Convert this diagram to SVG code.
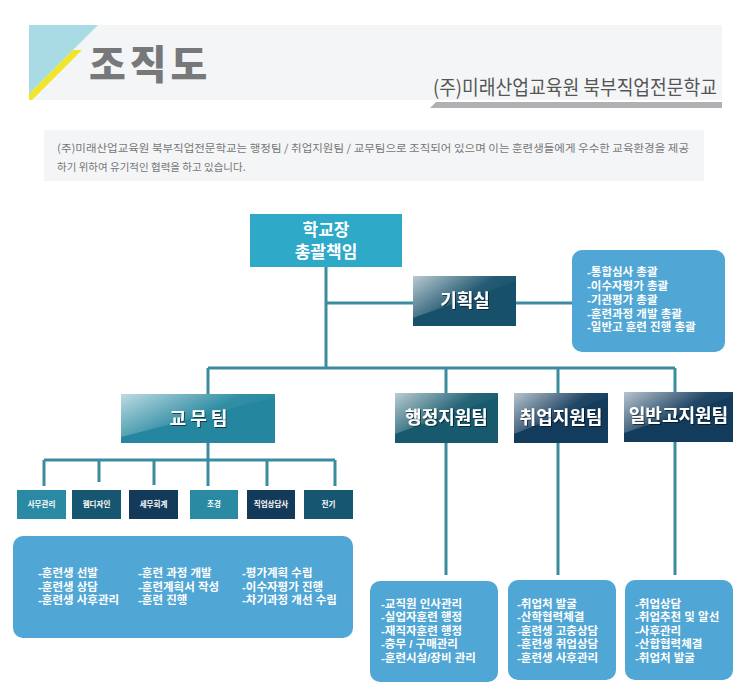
<svg xmlns="http://www.w3.org/2000/svg" width="750" height="694" viewBox="0 0 750 694">
<defs>
<style>
text{font-family:"Noto Sans CJK KR","Noto Sans",sans-serif;}
.lbl{fill:#fff;font-weight:700;text-anchor:middle;}
.two{font-family:"Liberation Sans","Noto Sans CJK KR",sans-serif;}
.info{fill:#fff;font-weight:700;font-size:11.5px;font-family:"Liberation Sans","Noto Sans CJK KR",sans-serif;}
.small{fill:#fff;font-weight:700;font-size:7.5px;text-anchor:middle;}
.infobox{fill:#50a6d4;}
.conn{stroke:#3b8c9e;stroke-width:3;fill:none;}
</style>
<linearGradient id="gloss" x1="0" y1="0" x2="1" y2="0.6">
<stop offset="0" stop-color="#fff" stop-opacity="0.7"/>
<stop offset="0.6" stop-color="#fff" stop-opacity="0.06"/>
<stop offset="1" stop-color="#fff" stop-opacity="0"/>
</linearGradient>
<filter id="sh" x="-10%" y="-20%" width="120%" height="140%">
<feDropShadow dx="1" dy="1" stdDeviation="0.6" flood-color="#000" flood-opacity="0.55"/>
</filter>
</defs>
<rect width="750" height="694" fill="#fff"/>

<g id="header">
<rect x="29" y="25" width="693" height="75" fill="#f4f5f7"/>
<polygon points="29,25 98,25 29,94" fill="#a8dbe3"/>
<polygon points="73,50 82,50 32,100 29,100 29,94" fill="#f0e52a"/>
<text x="89" y="79" font-size="40" font-weight="900" fill="#77787a" letter-spacing="4">조직도</text>
<text x="433" y="95" font-size="20" fill="#555" textLength="284" lengthAdjust="spacingAndGlyphs">(주)미래산업교육원 북부직업전문학교</text>
<polygon points="436,102 722,102 722,108 430,108" fill="#b1b1b3"/>
</g>

<g id="description">
<rect x="44" y="130" width="660" height="51" fill="#f4f5f7"/>
<text font-size="10.5" fill="#777"><tspan x="57" y="152" textLength="632" lengthAdjust="spacingAndGlyphs">(주)미래산업교육원 북부직업전문학교는 행정팀 / 취업지원팀 / 교무팀으로 조직되어 있으며 이는 훈련생들에게 우수한 교육환경을 제공</tspan><tspan x="57" y="171">하기 위하여 유기적인 협력을 하고 있습니다.</tspan></text>
</g>

<g id="connectors">
<path class="conn" d="M326 267 V368 M326 303 H413 M516 303 H572 M208 368 H675 M208 368 V394 M446 368 V393 M558 368 V393 M675 368 V392 M446 443 V575 M558 443 V575 M675 442 V575 M208 443 V486 M44 460 H335 M44 460 V486 M99 460 V482 M154 460 V485 M267 460 V486 M335 460 V486"/>
</g>

<g id="principal">
<rect x="250" y="214" width="152" height="53" fill="#2ea9c8"/>
<text class="lbl two" font-size="17"><tspan x="326" y="235.5">학교장</tspan><tspan x="326" y="257.5">총괄책임</tspan></text>
</g>

<g id="planning">
<rect x="413" y="276" width="103" height="50" fill="#17506a"/>
<polygon points="413,276 516,276 516,281 413,318" fill="url(#gloss)"/>
<text class="lbl" x="465" y="307" font-size="18" filter="url(#sh)">기획실</text>
</g>

<g id="planning-duties">
<rect class="infobox" x="572" y="250" width="153" height="102" rx="10"/>
<text class="info"><tspan x="587" y="276">-통합심사  총괄</tspan><tspan x="587" y="290">-이수자평가  총괄</tspan><tspan x="587" y="304">-기관평가  총괄</tspan><tspan x="587" y="317.5">-훈련과정 개발 총괄</tspan><tspan x="587" y="331">-일반고 훈련 진행 총괄</tspan></text>
</g>

<g id="academic-team">
<rect x="121" y="394" width="154" height="49" fill="#24879f"/>
<polygon points="121,394 275,394 275,397 121,437" fill="url(#gloss)"/>
<text class="lbl" x="198.5" y="425" font-size="18" filter="url(#sh)">교 무 팀</text>
</g>

<g id="admin-team">
<rect x="395" y="393" width="103" height="50" fill="#175a6e"/>
<polygon points="395,393 498,393 498,397 395,434" fill="url(#gloss)"/>
<text class="lbl" x="446.5" y="424" font-size="18" filter="url(#sh)">행정지원팀</text>
</g>

<g id="employment-team">
<rect x="514" y="393" width="94" height="50" fill="#133b5c"/>
<polygon points="514,393 608,393 608,397 514,434" fill="url(#gloss)"/>
<text class="lbl" x="561" y="424" font-size="18" filter="url(#sh)">취업지원팀</text>
</g>

<g id="general-team">
<rect x="624" y="392" width="109" height="50" fill="#133b5c"/>
<polygon points="624,392 733,392 733,396 624,433" fill="url(#gloss)"/>
<text class="lbl" x="678.5" y="422" font-size="18" filter="url(#sh)">일반고지원팀</text>
</g>

<g id="sub-office">
<rect x="17" y="490" width="49" height="29" fill="#2a8aa3"/>
<text class="small" x="41.5" y="507">사무관리</text>
</g>
<g id="sub-web">
<rect x="72" y="490" width="49" height="29" fill="#175670"/>
<text class="small" x="96.5" y="507">웹디자인</text>
</g>
<g id="sub-tax">
<rect x="129" y="490" width="49" height="29" fill="#143a5a"/>
<text class="small" x="153.5" y="507">세무회계</text>
</g>
<g id="sub-landscape">
<rect x="190" y="490" width="48" height="29" fill="#2a8aa3"/>
<text class="small" x="214" y="507">조경</text>
</g>
<g id="sub-counsel">
<rect x="247" y="490" width="48" height="29" fill="#143a5a"/>
<text class="small" x="271" y="507">직업상담사</text>
</g>
<g id="sub-electric">
<rect x="304" y="490" width="49" height="29" fill="#175670"/>
<text class="small" x="328.5" y="507">전기</text>
</g>

<g id="academic-duties">
<rect class="infobox" x="13" y="536" width="340" height="102" rx="10"/>
<text class="info"><tspan x="38" y="577">-훈련생 선발</tspan><tspan x="38" y="590.5">-훈련생 상담</tspan><tspan x="38" y="604">-훈련생 사후관리</tspan></text>
<text class="info"><tspan x="138" y="577">-훈련 과정 개발</tspan><tspan x="138" y="590.5">-훈련계획서 작성</tspan><tspan x="138" y="604">-훈련 진행</tspan></text>
<text class="info"><tspan x="242" y="577">-평가계획 수립</tspan><tspan x="242" y="590.5">-이수자평가 진행</tspan><tspan x="242" y="604">-차기과정 개선 수립</tspan></text>
</g>

<g id="admin-duties">
<rect class="infobox" x="370" y="581" width="128" height="101" rx="10"/>
<text class="info"><tspan x="381" y="607.5">-교직원 인사관리</tspan><tspan x="381" y="621">-실업자훈련 행정</tspan><tspan x="381" y="634.5">-재직자훈련 행정</tspan><tspan x="381" y="648">-충무 / 구매관리</tspan><tspan x="381" y="661.5">-훈련시설/장비 관리</tspan></text>
</g>

<g id="employment-duties">
<rect class="infobox" x="508" y="580" width="108" height="100" rx="10"/>
<text class="info"><tspan x="517" y="607.5">-취업처 발굴</tspan><tspan x="517" y="621">-산학협력체결</tspan><tspan x="517" y="634.5">-훈련생 고충상담</tspan><tspan x="517" y="648">-훈련생 취업상담</tspan><tspan x="517" y="661.5">-훈련생 사후관리</tspan></text>
</g>

<g id="general-duties">
<rect class="infobox" x="625" y="580" width="108" height="100" rx="10"/>
<text class="info"><tspan x="635" y="607.5">-취업상담</tspan><tspan x="635" y="621">-취업추천 및 알선</tspan><tspan x="635" y="634.5">-사후관리</tspan><tspan x="635" y="648">-산합협력체결</tspan><tspan x="635" y="661.5">-취업처 발굴</tspan></text>
</g>
</svg>
